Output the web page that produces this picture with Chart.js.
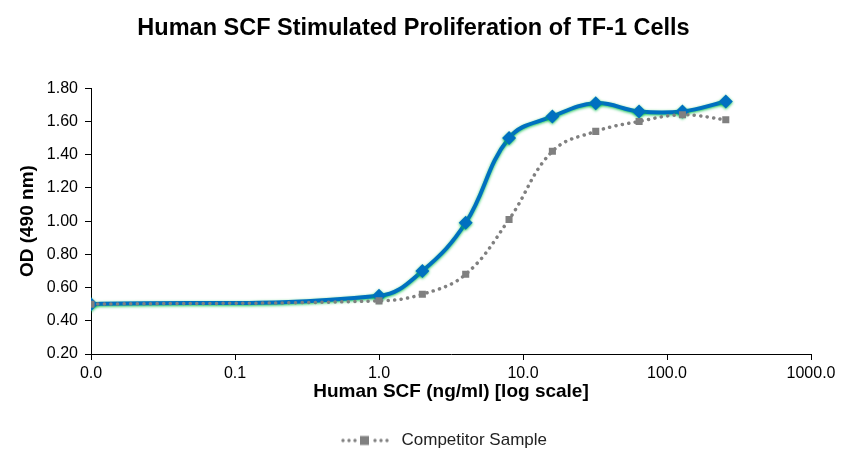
<!DOCTYPE html>
<html>
<head>
<meta charset="utf-8">
<script src="https://cdn.jsdelivr.net/npm/chart.js@4"></script>
<style>
  html, body { margin: 0; padding: 0; background: #fff; }
  #wrap { width: 856px; height: 475px; }
</style>
</head>
<body>
<div id="wrap"><canvas id="chart" width="856" height="475"></canvas></div>
<script>
// --- data ---
const concentrations = [0.01, 1, 2, 4, 8, 16, 32, 64, 128, 256];
const scfValues = [0.50, 0.55, 0.70, 0.99, 1.50, 1.63, 1.71, 1.66, 1.66, 1.72];
const competitorValues = [0.50, 0.52, 0.56, 0.68, 1.01, 1.42, 1.54, 1.60, 1.64, 1.61];
const xTicks = [0.01, 0.1, 1, 10, 100, 1000];
const yTicks = [0.2, 0.4, 0.6, 0.8, 1.0, 1.2, 1.4, 1.6, 1.8];

const font = 'Liberation Sans, Arial, sans-serif';

// small picture for the legend: dots, a square, dots
const legendIcon = document.createElement('canvas');
legendIcon.width = 53;
legendIcon.height = 12;
(() => {
    const c = legendIcon.getContext('2d');
    c.fillStyle = '#808080';
    [3, 9, 15, 35, 41, 47].forEach(x => {
        c.beginPath();
        c.arc(x, 6, 1.7, 0, Math.PI * 2);
        c.fill();
    });
    c.fillRect(20, 1.5, 9, 9);
})();

// green glow under the blue line
const glowPlugin = {
    id: 'glow',
    beforeDatasetDraw(chart, args) {
        if (args.index !== 0) return;
        const ctx = chart.ctx;
        ctx.save();
        ctx.shadowColor = 'rgba(0, 190, 70, 0.9)';
        ctx.shadowBlur = 3;
        ctx.shadowOffsetY = 1;
    },
    afterDatasetDraw(chart, args) {
        if (args.index !== 0) return;
        chart.ctx.restore();
    },
    // legend sits a bit right of the plot centre in the original
    afterLayout(chart) {
        chart.legend.left += 30;
        chart.legend.right += 30;
    }
};

new Chart(document.getElementById('chart'), {
    type: 'line',
    data: {
        datasets: [{
            label: '',
            data: concentrations.map((x, i) => ({ x, y: scfValues[i] })),
            borderColor: '#0070C0',
            backgroundColor: '#0070C0',
            borderWidth: 4,
            tension: 0.4,
            pointStyle: 'rectRot',
            pointRadius: 7,
            pointBorderWidth: 0,
            order: 1
        }, {
            label: 'Competitor Sample',
            data: concentrations.map((x, i) => ({ x, y: competitorValues[i] })),
            borderColor: '#808080',
            backgroundColor: '#808080',
            borderWidth: 3.5,
            borderDash: [0.1, 6.5],
            borderCapStyle: 'round',
            tension: 0.4,
            pointStyle: 'rect',
            pointRadius: 5,
            pointBorderWidth: 0,
            order: 0
        }]
    },
    options: {
        responsive: false,
        animation: false,
        layout: { padding: { left: 16, right: 45, top: 10, bottom: 16 } },
        plugins: {
            title: {
                display: true,
                text: 'Human SCF Stimulated Proliferation of TF-1 Cells',
                color: '#000',
                font: { family: font, size: 23.5, weight: 'bold' },
                padding: { top: 4, bottom: 46 }
            },
            legend: {
                position: 'bottom',
                labels: {
                    usePointStyle: true,
                    pointStyleWidth: 53,
                    color: '#222',
                    font: { family: font, size: 17 },
                    padding: 10,
                    generateLabels: () => [{
                        text: 'Competitor Sample',
                        pointStyle: legendIcon,
                        datasetIndex: 1,
                        fontColor: '#222',
                        lineWidth: 0
                    }]
                }
            },
            tooltip: { enabled: false }
        },
        scales: {
            x: {
                type: 'logarithmic',
                min: 0.01,
                max: 1000,
                afterBuildTicks: s => { s.ticks = xTicks.map(v => ({ value: v })); },
                afterFit: s => { s.height = 68; },
                ticks: {
                    color: '#000',
                    font: { family: font, size: 16, lineHeight: 1 },
                    maxRotation: 0,
                    padding: 6,
                    callback: v => Number(v).toFixed(1)
                },
                grid: { drawOnChartArea: false, color: '#000', tickLength: 6 },
                border: { color: '#000', width: 1 },
                title: {
                    display: true,
                    text: 'Human SCF (ng/ml) [log scale]',
                    color: '#000',
                    font: { family: font, size: 19, weight: 'bold' },
                    padding: { top: 0, bottom: 18.5 }
                }
            },
            y: {
                min: 0.2,
                max: 1.8,
                afterBuildTicks: s => { s.ticks = yTicks.map(v => ({ value: v })); },
                afterFit: s => { s.width = 75; },
                ticks: {
                    color: '#000',
                    font: { family: font, size: 16 },
                    padding: 7,
                    callback: v => Number(v).toFixed(2)
                },
                grid: { drawOnChartArea: false, color: '#000', tickLength: 6 },
                border: { color: '#000', width: 1 },
                title: {
                    display: true,
                    text: 'OD (490 nm)',
                    color: '#000',
                    font: { family: font, size: 19, weight: 'bold' },
                    padding: { top: 0, bottom: 2 }
                }
            }
        }
    },
    plugins: [glowPlugin]
});
</script>
</body>
</html>
